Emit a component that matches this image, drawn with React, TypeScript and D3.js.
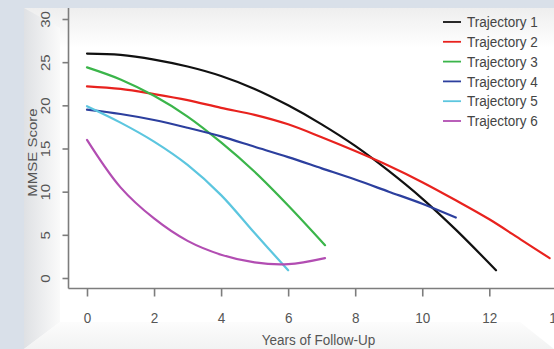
import React, { useEffect, useRef } from "react";
import { select, scaleLinear, line, curveCatmullRom, axisBottom, axisLeft } from "d3";

// values (years, MMSE score)
const traj1 = [[0, 26.0], [1, 25.85], [2, 25.3], [3, 24.5], [4, 23.4], [5, 21.9], [6, 20.0], [7, 17.8], [8, 15.3], [9, 12.4], [10, 9.2], [11, 5.6], [12.2, 0.9]];
const traj2 = [[0, 22.2], [1, 21.9], [2, 21.3], [3, 20.6], [4, 19.7], [5, 18.9], [6, 17.8], [7, 16.3], [8, 14.7], [9, 13.0], [10, 11.1], [11, 9.0], [12, 6.8], [13, 4.3], [13.8, 2.3]];
const traj3 = [[0, 24.4], [1, 23.0], [2, 21.1], [3, 18.7], [4, 15.7], [5, 12.3], [6, 8.4], [7.1, 3.8]];
const traj4 = [[0, 19.5], [1, 19.0], [2, 18.3], [3, 17.4], [4, 16.4], [5, 15.2], [6, 14.0], [7, 12.7], [8, 11.4], [9, 10.0], [10, 8.6], [11, 7.0]];
const traj5 = [[0, 19.9], [1, 18.0], [2, 15.8], [3, 13.1], [4, 9.6], [5, 5.2], [6, 0.9]];
const traj6 = [[0, 16.0], [1, 10.5], [2, 6.9], [3, 4.3], [4, 2.7], [5, 1.8], [6, 1.6], [7.1, 2.3]];

const names = ["Trajectory 1", "Trajectory 2", "Trajectory 3", "Trajectory 4", "Trajectory 5", "Trajectory 6"];
const colors = ["#111111", "#e8221e", "#3bb54a", "#2c3f9e", "#5cc6df", "#b24db2"];
const xTicks = [0, 2, 4, 6, 8, 10, 12, 14];
const yTicks = [0, 5, 10, 15, 20, 25, 30];

const W = 554;
const H = 349;
const FONT = "'Liberation Sans', Arial, sans-serif";

function TrajectoryChart() {
  const svgRef = useRef<SVGSVGElement | null>(null);

  useEffect(() => {
    const svg = select(svgRef.current);
    svg.selectAll("*").remove();

    const series = [traj1, traj2, traj3, traj4, traj5, traj6];

    // scales
    const xScale = scaleLinear().domain([0, 12]).range([87, 489.3]);
    const yScale = scaleLinear().domain([0, 30]).range([278, 19]);

    // background + framed panel
    const defs = svg.append("defs");
    const lg = defs.append("linearGradient").attr("id", "leftBevel").attr("x1", 0).attr("x2", 1).attr("y1", 0).attr("y2", 0);
    lg.append("stop").attr("offset", 0).attr("stop-color", "#dfe1e4");
    lg.append("stop").attr("offset", 1).attr("stop-color", "#fafafa");
    const bg = defs.append("linearGradient").attr("id", "bottomBevel").attr("x1", 0).attr("x2", 0).attr("y1", 0).attr("y2", 1);
    bg.append("stop").attr("offset", 0).attr("stop-color", "#fbfbfb");
    bg.append("stop").attr("offset", 1).attr("stop-color", "#eceded");
    const tg = defs.append("linearGradient").attr("id", "topShade").attr("x1", 0).attr("x2", 0).attr("y1", 0).attr("y2", 1);
    tg.append("stop").attr("offset", 0).attr("stop-color", "#eeeeee");
    tg.append("stop").attr("offset", 1).attr("stop-color", "#ffffff");

    svg.append("rect").attr("width", W).attr("height", H).attr("fill", "#d9e0e9");
    svg.append("rect").attr("x", 24).attr("y", 8).attr("width", W - 24).attr("height", H - 8).attr("fill", "#ffffff");
    svg.append("rect").attr("x", 24).attr("y", 8).attr("width", W - 24).attr("height", 40).attr("fill", "url(#topShade)");
    svg.append("polygon").attr("points", "24,8 60,28 60,322 24,349").attr("fill", "url(#leftBevel)");
    svg.append("polygon").attr("points", "24,349 60,322 520,322 554,349").attr("fill", "url(#bottomBevel)").attr("opacity", 0.7);

    // curves
    const lineGen = line<number[]>()
      .x(d => xScale(d[0]))
      .y(d => yScale(d[1]))
      .curve(curveCatmullRom);

    svg.append("g")
      .selectAll("path")
      .data(series)
      .join("path")
      .attr("d", d => lineGen(d))
      .attr("fill", "none")
      .attr("stroke", (d, i) => colors[i])
      .attr("stroke-width", 2.2)
      .attr("stroke-linecap", "round");

    // axes (R style: box lines left and bottom)
    const axisColor = "#7d7d7d";
    svg.append("line").attr("x1", 68.5).attr("x2", 68.5).attr("y1", 8).attr("y2", 288.5)
      .attr("stroke", axisColor).attr("stroke-width", 1.6);
    svg.append("line").attr("x1", 68.5).attr("x2", W).attr("y1", 288.5).attr("y2", 288.5)
      .attr("stroke", axisColor).attr("stroke-width", 1.6);

    const xAxis = axisBottom(xScale).tickValues(xTicks).tickSize(8).tickSizeOuter(0);
    const gx = svg.append("g").attr("transform", "translate(0,288.5)").call(xAxis);
    gx.select(".domain").remove();
    gx.attr("font-family", FONT).attr("font-size", 15.4);
    gx.selectAll("line").attr("stroke", axisColor).attr("stroke-width", 1.6);
    gx.selectAll("text")
      .attr("y", 0).attr("dy", null)
      .attr("fill", "#555555")
      .attr("transform", "translate(0,34) scale(0.877,1)");

    const yAxis = axisLeft(yScale).tickValues(yTicks).tickSize(6).tickSizeOuter(0);
    const gy = svg.append("g").attr("transform", "translate(68.5,0)").call(yAxis);
    gy.select(".domain").remove();
    gy.attr("font-family", FONT).attr("font-size", 15);
    gy.selectAll("line").attr("stroke", axisColor).attr("stroke-width", 1.6);
    gy.selectAll("text")
      .attr("x", 0).attr("dy", null)
      .attr("text-anchor", "middle")
      .attr("fill", "#555555")
      .attr("transform", "translate(-18.5,0) rotate(-90) scale(1,0.85)");

    // axis titles
    svg.append("text")
      .attr("transform", `translate(${(87 + 556) / 2 - 3},345) scale(0.877,1)`)
      .attr("text-anchor", "middle")
      .attr("font-family", FONT).attr("font-size", 15.4).attr("fill", "#555555")
      .text("Years of Follow-Up");
    svg.append("text")
      .attr("transform", `translate(37,${yScale(15) + 4}) rotate(-90) scale(1,0.85)`)
      .attr("text-anchor", "middle")
      .attr("font-family", FONT).attr("font-size", 15).attr("fill", "#555555")
      .text("MMSE Score");

    // legend
    const legend = svg.append("g")
      .selectAll("g")
      .data(names)
      .join("g")
      .attr("transform", (d, i) => `translate(0,${22 + i * 19.8})`);
    legend.append("line")
      .attr("x1", 443).attr("x2", 461).attr("y1", 0).attr("y2", 0)
      .attr("stroke", (d, i) => colors[i]).attr("stroke-width", 1.8);
    legend.append("text")
      .attr("transform", "translate(467,5.2) scale(0.877,1)")
      .attr("font-family", FONT).attr("font-size", 15.4).attr("fill", "#444444")
      .text(d => d);
  }, []);

  return (
    <svg
      ref={svgRef}
      width={W}
      height={H}
      style={{ position: "absolute", left: 0, top: 0 }}
    />
  );
}

export default function App() {
  return <TrajectoryChart />;
}
